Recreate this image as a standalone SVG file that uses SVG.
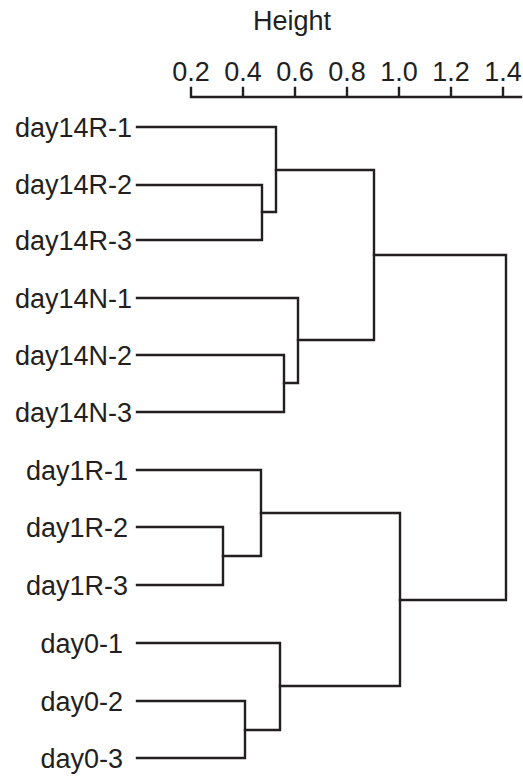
<svg xmlns="http://www.w3.org/2000/svg" width="523" height="776" viewBox="0 0 523 776">
<style>
text{font-family:"Liberation Sans",Arial,sans-serif;font-size:27px;fill:#231f20}
.lbl{text-anchor:end}
.tk{text-anchor:middle}
.ln{fill:none;stroke:#231f20;stroke-width:2.4;stroke-linecap:square;stroke-linejoin:miter}
</style>
<rect width="523" height="776" fill="#fff"/>
<g id="axis">
<text class="tk" x="292" y="30">Height</text>
<text class="tk" x="191" y="81">0.2</text>
<text class="tk" x="243" y="81">0.4</text>
<text class="tk" x="295" y="81">0.6</text>
<text class="tk" x="347" y="81">0.8</text>
<text class="tk" x="399" y="81">1.0</text>
<text class="tk" x="451" y="81">1.2</text>
<text class="tk" x="503" y="81">1.4</text>
<path class="ln" d="M191 97H521M191 88V97M243 88V97M295 88V97M347 88V97M399 88V97M451 88V97M503 88V97"/>
</g>
<g id="leaf-day14R-1"><text class="lbl" x="132" y="137">day14R-1</text></g>
<g id="leaf-day14R-2"><text class="lbl" x="132" y="194">day14R-2</text></g>
<g id="leaf-day14R-3"><text class="lbl" x="132" y="250">day14R-3</text></g>
<g id="leaf-day14N-1"><text class="lbl" x="132" y="308">day14N-1</text></g>
<g id="leaf-day14N-2"><text class="lbl" x="132" y="365">day14N-2</text></g>
<g id="leaf-day14N-3"><text class="lbl" x="132" y="422">day14N-3</text></g>
<g id="leaf-day1R-1"><text class="lbl" x="128" y="480">day1R-1</text></g>
<g id="leaf-day1R-2"><text class="lbl" x="128" y="537">day1R-2</text></g>
<g id="leaf-day1R-3"><text class="lbl" x="128" y="595">day1R-3</text></g>
<g id="leaf-day0-1"><text class="lbl" x="123" y="653">day0-1</text></g>
<g id="leaf-day0-2"><text class="lbl" x="123" y="711">day0-2</text></g>
<g id="leaf-day0-3"><text class="lbl" x="123" y="768">day0-3</text></g>
<g id="connectors">
<path class="ln" d="M137 185H262V240H137"/>
<path class="ln" d="M137 127H276V212H262"/>
<path class="ln" d="M137 355H284V412H137"/>
<path class="ln" d="M137 298H298V383H284"/>
<path class="ln" d="M276 170H374V340H298"/>
<path class="ln" d="M137 527H223V585H137"/>
<path class="ln" d="M137 470H261V556H223"/>
<path class="ln" d="M137 701H245V758H137"/>
<path class="ln" d="M137 643H280V730H245"/>
<path class="ln" d="M261 513H400V686H280"/>
<path class="ln" d="M374 255H506V600H400"/>
</g>
</svg>
